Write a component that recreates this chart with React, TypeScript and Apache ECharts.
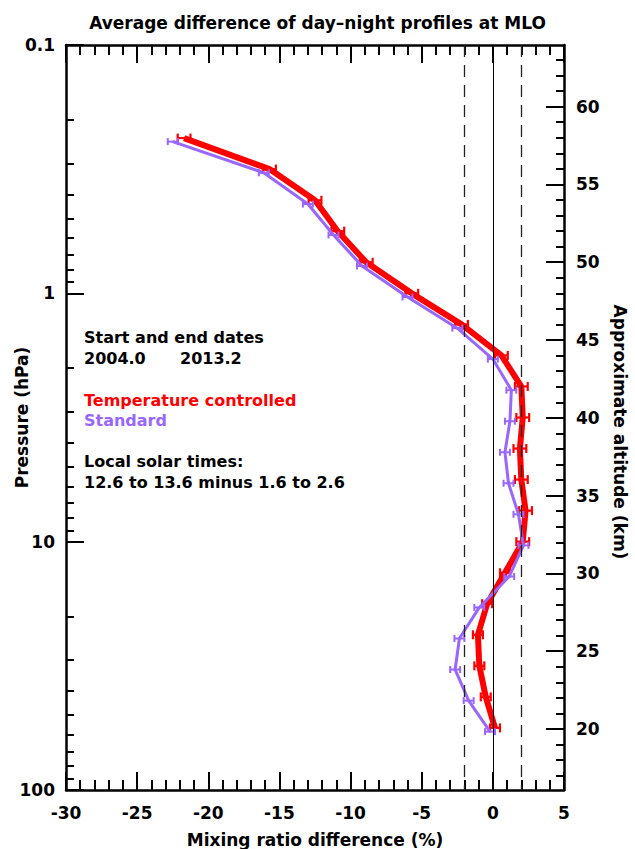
import React, { useEffect, useRef } from 'react';
import * as echarts from 'echarts';

// Pressure levels (hPa) of the profile points, top (≈58 km) to bottom (≈20 km)
const PRESSURE_TC = [0.237, 0.316, 0.422, 0.562, 0.75, 1.0, 1.334, 1.778, 2.371, 3.162, 4.217, 5.623, 7.499, 10.0, 13.34, 17.78, 23.71, 31.62, 42.17, 56.23];
const PRESSURE_STD = [0.245, 0.327, 0.437, 0.582, 0.776, 1.035, 1.381, 1.84, 2.454, 3.273, 4.365, 5.82, 7.761, 10.35, 13.81, 18.4, 24.54, 32.73, 43.65, 58.2];

// Mixing ratio difference (%)
const DIFF_TC = [-21.7, -15.7, -12.5, -10.9, -8.9, -5.7, -2.2, 0.6, 2.0, 2.1, 1.9, 2.0, 2.3, 2.1, 0.85, -0.4, -1.05, -0.95, -0.5, 0.15];
const DIFF_STD = [-22.5, -16.1, -13.0, -11.2, -9.2, -6.0, -2.5, 0.0, 1.3, 1.2, 0.85, 1.1, 1.8, 2.15, 1.15, -0.95, -2.35, -2.65, -1.7, -0.2];

// Error bar half-widths (%)
const ERR_TC = [0.45, 0.45, 0.45, 0.45, 0.45, 0.45, 0.45, 0.45, 0.45, 0.45, 0.45, 0.45, 0.45, 0.45, 0.35, 0.35, 0.35, 0.35, 0.35, 0.35];
const ERR_STD = [0.35, 0.35, 0.35, 0.35, 0.35, 0.35, 0.35, 0.35, 0.35, 0.35, 0.35, 0.35, 0.35, 0.35, 0.35, 0.35, 0.35, 0.35, 0.35, 0.35];

// Axis ticks
const P_MINOR = [0.2, 0.3, 0.4, 0.5, 0.6, 0.7, 0.8, 0.9, 2, 3, 4, 5, 6, 7, 8, 9, 20, 30, 40, 50, 60, 70, 80, 90];
const ALT_MAJOR = [20, 25, 30, 35, 40, 45, 50, 55, 60];
const ALT_MINOR = [17, 18, 19, 21, 22, 23, 24, 26, 27, 28, 29, 31, 32, 33, 34, 36, 37, 38, 39, 41, 42, 43, 44, 46, 47, 48, 49, 51, 52, 53, 54, 56, 57, 58, 59, 61, 62, 63];
const REF_DASHED = [-2, 2];
const REF_SOLID = [0];

// Approximate altitude relation: 1 hPa ≈ 48 km, ≈15.96 km per pressure decade
const ALT_AT_1HPA = 48;
const KM_PER_DECADE = 15.96;
const P_MIN = 0.1;
const P_MAX = 100;
const ALT_MAX = ALT_AT_1HPA - KM_PER_DECADE * Math.log10(P_MIN);
const ALT_MIN = ALT_AT_1HPA - KM_PER_DECADE * Math.log10(P_MAX);

const RED = '#ff0000';
const PURPLE = '#9966ff';
const FONT = '"DejaVu Sans", sans-serif';

const labelStyle = { fontFamily: FONT, fontSize: 17, fontWeight: 'bold', color: '#000' };
const axisLineStyle = { color: '#000', width: 2.5 };
const tickStyle = { color: '#000', width: 2 };

function errorBars(color: string, width: number, cap: number) {
  return (params: any, api: any) => {
    const x = api.value(0);
    const p = api.value(1);
    const e = api.value(2);
    const a = api.coord([x - e, p]);
    const b = api.coord([x + e, p]);
    const h = cap / 2;
    const style = { stroke: color, lineWidth: width };
    return {
      type: 'group',
      children: [
        { type: 'line', shape: { x1: a[0], y1: a[1], x2: b[0], y2: b[1] }, style },
        { type: 'line', shape: { x1: a[0], y1: a[1] - h, x2: a[0], y2: a[1] + h }, style },
        { type: 'line', shape: { x1: b[0], y1: b[1] - h, x2: b[0], y2: b[1] + h }, style },
      ],
    };
  };
}

function textEl(text: string, x: number, y: number, fill: string) {
  return {
    type: 'text',
    x,
    y,
    style: { text, fill, font: `bold 16px ${FONT}`, textAlign: 'left', textVerticalAlign: 'middle' },
  };
}

export default function App() {
  const ref = useRef<HTMLDivElement>(null);

  useEffect(() => {
    if (!ref.current) return;
    const chart = echarts.init(ref.current, null, { renderer: 'svg' });

    const tcLine = PRESSURE_TC.map((p, i) => [DIFF_TC[i], p]);
    const stdLine = PRESSURE_STD.map((p, i) => [DIFF_STD[i], p]);
    const tcErr = PRESSURE_TC.map((p, i) => [DIFF_TC[i], p, ERR_TC[i]]);
    const stdErr = PRESSURE_STD.map((p, i) => [DIFF_STD[i], p, ERR_STD[i]]);

    const markData = [
      ...REF_DASHED.map((v) => ({ xAxis: v, lineStyle: { type: [12, 8], color: '#222', width: 1.3 } })),
      ...REF_SOLID.map((v) => ({ xAxis: v, lineStyle: { type: 'solid', color: '#000', width: 1 } })),
    ];

    const xBase = {
      type: 'value',
      min: -30,
      max: 5,
      interval: 5,
      axisLine: { show: true, onZero: false, lineStyle: axisLineStyle },
      axisTick: { show: true, inside: true, length: 18, lineStyle: tickStyle },
      minorTick: { show: true, splitNumber: 5, length: 10, lineStyle: tickStyle },
      splitLine: { show: false },
      minorSplitLine: { show: false },
    };

    const option: any = {
      animation: false,
      backgroundColor: '#ffffff',
      title: {
        text: 'Average difference of day\u2013night profiles at MLO',
        left: 'center',
        top: 9,
        textStyle: { fontFamily: FONT, fontSize: 17, fontWeight: 'bold', color: '#000' },
      },
      grid: { left: 66, right: 71, top: 45, bottom: 59, containLabel: false, outerBoundsMode: 'none' },
      xAxis: [
        {
          ...xBase,
          position: 'bottom',
          name: 'Mixing ratio difference (%)',
          nameLocation: 'middle',
          nameGap: 41,
          nameMoveOverlap: false,
          nameTextStyle: labelStyle,
          axisLabel: { ...labelStyle, margin: 14 },
        },
        {
          ...xBase,
          position: 'top',
          axisLabel: { show: false },
        },
      ],
      yAxis: [
        {
          type: 'log',
          logBase: 10,
          min: P_MIN,
          max: P_MAX,
          inverse: true,
          position: 'left',
          name: 'Pressure (hPa)',
          nameLocation: 'middle',
          nameGap: 36,
          nameRotate: 90,
          nameMoveOverlap: false,
          nameTextStyle: labelStyle,
          axisLine: { show: true, onZero: false, lineStyle: axisLineStyle },
          axisTick: { show: true, inside: true, length: 18, lineStyle: tickStyle },
          minorTick: { show: false },
          axisLabel: { ...labelStyle, margin: 11 },
          splitLine: { show: false },
          minorSplitLine: { show: false },
        },
        {
          type: 'value',
          position: 'right',
          min: ALT_MIN,
          max: ALT_MAX,
          axisLine: { show: true, onZero: false, lineStyle: axisLineStyle },
          axisTick: { show: true, inside: true, length: 18, lineStyle: tickStyle, customValues: ALT_MAJOR },
          axisLabel: { ...labelStyle, margin: 12, customValues: ALT_MAJOR },
          splitLine: { show: false },
        },
        {
          type: 'value',
          position: 'right',
          min: ALT_MIN,
          max: ALT_MAX,
          axisLine: { show: false, onZero: false },
          axisTick: { show: true, inside: true, length: 8, lineStyle: tickStyle, customValues: ALT_MINOR },
          axisLabel: { show: false },
          splitLine: { show: false },
        },
        {
          // minor pressure ticks (2..9 per decade), on log10(p) scale
          type: 'value',
          position: 'left',
          min: Math.log10(P_MIN),
          max: Math.log10(P_MAX),
          inverse: true,
          axisLine: { show: false, onZero: false },
          axisTick: { show: true, inside: true, length: 8, lineStyle: tickStyle, customValues: P_MINOR.map((p) => Math.log10(p)) },
          axisLabel: { show: false },
          splitLine: { show: false },
        },
      ],
      graphic: [
        textEl('Start and end dates', 84, 337, '#000'),
        textEl('2004.0', 84, 358, '#000'),
        textEl('2013.2', 180, 358, '#000'),
        textEl('Temperature controlled', 84, 400, RED),
        textEl('Standard', 84, 420, PURPLE),
        textEl('Local solar times:', 84, 461, '#000'),
        textEl('12.6 to 13.6 minus 1.6 to 2.6', 84, 482, '#000'),
        {
          type: 'text',
          x: 620,
          y: 432,
          rotation: -Math.PI / 2,
          style: {
            text: 'Approximate altitude (km)',
            fill: '#000',
            font: `bold 17px ${FONT}`,
            textAlign: 'center',
            textVerticalAlign: 'middle',
          },
        },
      ],
      series: [
        {
          name: 'Temperature controlled',
          type: 'line',
          xAxisIndex: 0,
          yAxisIndex: 0,
          data: tcLine,
          showSymbol: false,
          symbol: 'none',
          lineStyle: { color: RED, width: 6 },
          z: 2,
          markLine: {
            silent: true,
            symbol: ['none', 'none'],
            label: { show: false },
            z: 10,
            data: markData,
          },
        },
        {
          name: 'Temperature controlled errors',
          type: 'custom',
          xAxisIndex: 0,
          yAxisIndex: 0,
          dimensions: ['x', 'p', 'err'],
          encode: { x: 0, y: 1 },
          data: tcErr,
          renderItem: errorBars(RED, 2.2, 9),
          z: 3,
        },
        {
          name: 'Standard',
          type: 'line',
          xAxisIndex: 0,
          yAxisIndex: 0,
          data: stdLine,
          showSymbol: false,
          symbol: 'none',
          lineStyle: { color: PURPLE, width: 3 },
          z: 4,
        },
        {
          name: 'Standard errors',
          type: 'custom',
          xAxisIndex: 0,
          yAxisIndex: 0,
          dimensions: ['x', 'p', 'err'],
          encode: { x: 0, y: 1 },
          data: stdErr,
          renderItem: errorBars(PURPLE, 2, 7),
          z: 5,
        },
      ],
    };

    chart.setOption(option);
    return () => {
      chart.dispose();
    };
  }, []);

  return (
    <div
      ref={ref}
      style={{ position: 'absolute', left: 0, top: 0, width: 635, height: 849, background: '#fff' }}
    />
  );
}
